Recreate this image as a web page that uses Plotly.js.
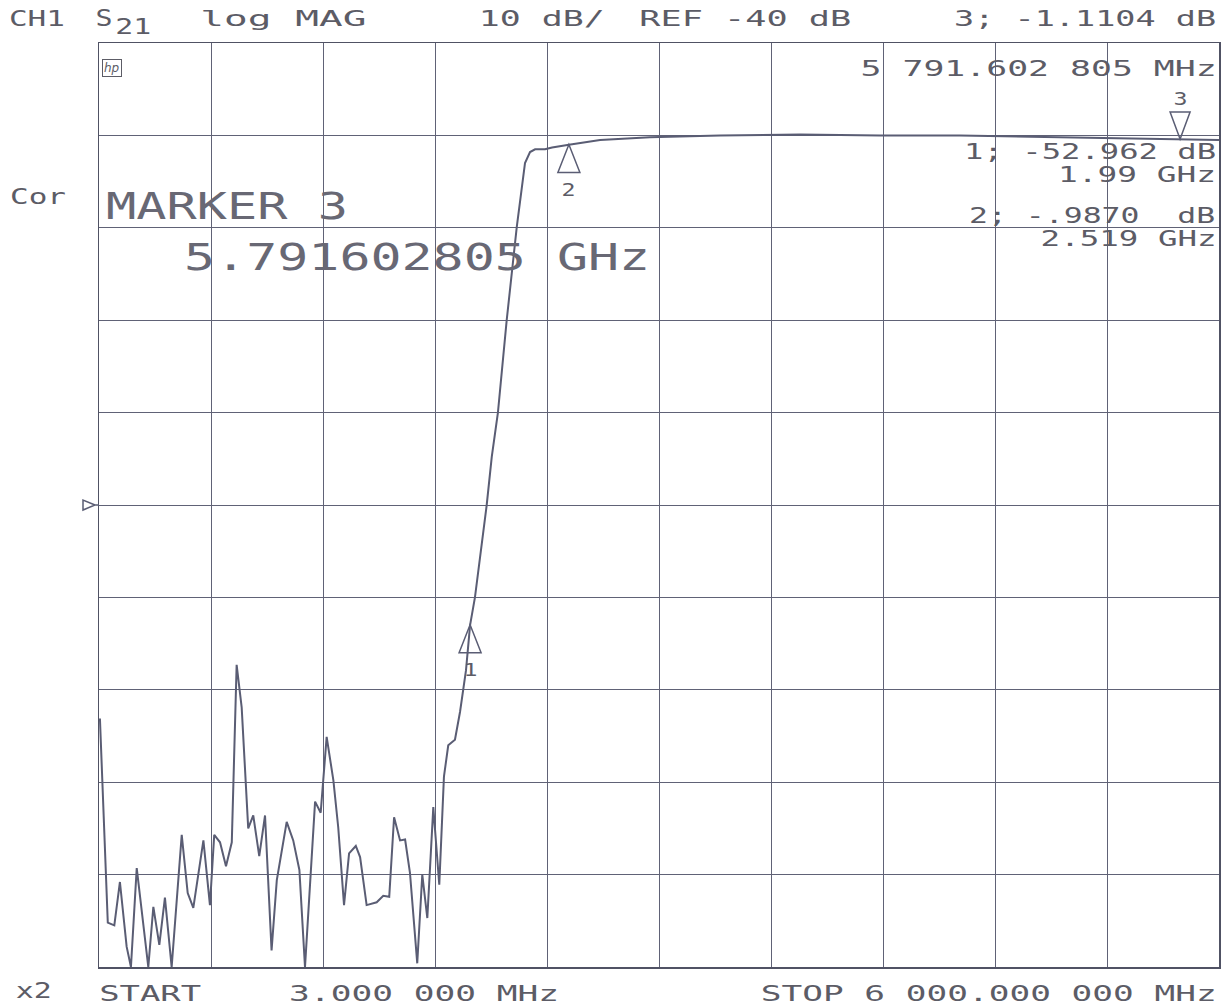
<!DOCTYPE html>
<html>
<head>
<meta charset="utf-8">
<script src="https://cdn.plot.ly/plotly-3.0.1.min.js"></script>
<style>
html,body{margin:0;padding:0;background:#ffffff;}
#chart{width:1228px;height:1007px;}
</style>
</head>
<body>
<div id="chart"></div>
<script>
// ---------------- DATA ----------------
const freqGHz = [0.008, 0.050, 0.085, 0.115, 0.151, 0.174, 0.205, 0.267, 0.294, 0.326,
  0.356, 0.392, 0.446, 0.478, 0.508, 0.562, 0.597, 0.620, 0.651, 0.683,
  0.714, 0.740, 0.767, 0.802, 0.829, 0.861, 0.892, 0.927, 0.955, 1.008,
  1.043, 1.076, 1.106, 1.160, 1.190, 1.222, 1.258, 1.284, 1.315, 1.342,
  1.378, 1.401, 1.436, 1.490, 1.525, 1.557, 1.583, 1.615, 1.642, 1.668,
  1.707, 1.734, 1.761, 1.793, 1.825, 1.850, 1.873, 1.909, 1.936, 1.968,
  1.990, 2.016, 2.079, 2.106, 2.139, 2.186, 2.240, 2.284, 2.311, 2.338,
  2.391, 2.429, 2.519, 2.686, 2.953, 3.328, 3.757, 4.185, 4.613, 4.935,
  5.256, 5.577, 5.792, 6.000];
const s21dB = [-63.1, -85.2, -85.5, -80.8, -87.8, -90.0, -79.3, -90.0, -83.5, -87.6,
  -82.5, -90.0, -75.7, -82.0, -83.6, -76.3, -83.3, -75.7, -76.5, -79.1,
  -76.5, -57.3, -61.9, -75.0, -73.6, -78.0, -73.6, -88.2, -80.6, -74.3,
  -76.3, -79.5, -90.0, -72.1, -73.3, -65.1, -69.8, -74.9, -83.3, -77.7,
  -76.9, -78.1, -83.3, -83.0, -82.3, -82.4, -73.8, -76.3, -76.2, -79.8,
  -89.6, -80.0, -84.7, -72.7, -81.1, -69.4, -66.0, -65.4, -62.4, -57.9,
  -53.0, -50.0, -40.0, -34.8, -30.0, -20.0, -9.9, -3.0, -1.8, -1.5,
  -1.5, -1.3, -1.0, -0.5, -0.2, 0.0, 0.1, 0.0, 0.0, -0.1,
  -0.2, -0.3, -0.4, -0.5];
const markerNum  = ['1', '2', '3'];
const markerFreq = [1.99, 2.519, 5.7916];
const markerDb   = [-52.96, -0.99, -0.40];
const startGHz = 0.003, stopGHz = 6.0;
const refDb = -40, dbPerDiv = 10, nDiv = 10;

// ---------------- LAYOUT / STYLE ----------------
const W = 1228, H = 1007;
const M = {l: 99, r: 9, t: 43, b: 40};
const PW = W - M.l - M.r, PH = H - M.t - M.b;
const yMin = refDb - dbPerDiv * nDiv / 2, yMax = refDb + dbPerDiv * nDiv / 2;
const FONT = '"DejaVu Sans Mono", "Liberation Mono", monospace';
const TXT = '#5c5c66';
const BIGTXT = '#686874';
const INK = '#5a5d74';
const GRID = '#606276';

const px = x => (x - M.l) / PW;
const py = y => (M.t + PH - y) / PH;

// [text, centre x px, centre y px, target width px, font size, colour]
const labels = [
  ['CH1', 37, 18, 56, 22, TXT],
  ['S', 104, 18, 17, 23, TXT],
  ['21', 133, 27, 36, 22, TXT],
  ['log MAG', 283, 18, 166, 22, TXT],
  ['10 dB/', 541, 18, 126, 22, TXT],
  ['REF -40 dB', 745, 18, 212, 22, TXT],
  ['3; -1.1104 dB', 1085, 18, 262, 22, TXT],
  ['5 791.602 805 MHz', 1038, 68, 356, 22, TXT],
  ['1; -52.962 dB', 1090, 151, 252, 22, TXT],
  ['1.99 GHz', 1137, 174, 158, 22, TXT],
  ['2; -.9870\u00a0\u00a0dB', 1092, 215, 246, 22, TXT],
  ['2.519 GHz', 1128, 238, 176, 22, TXT],
  ['Cor', 38, 197, 56, 21, TXT],
  ['MARKER 3', 227, 206, 242, 37, BIGTXT],
  ['5.791602805 GHz', 417, 257, 466, 37, BIGTXT],
  ['x2', 33, 991, 36, 21, TXT],
  ['START', 150, 993, 102, 22, TXT],
  ['3.000 000 MHz', 424, 993, 270, 22, TXT],
  ['STOP 6 000.000 000 MHz', 988, 993, 456, 22, TXT]
];

const annotations = labels.map(l => ({
  text: l[0], xref: 'paper', yref: 'paper', x: px(l[1]), y: py(l[2]),
  xanchor: 'center', yanchor: 'middle', showarrow: false,
  font: {family: FONT, size: l[4], color: l[5]}
}));
const widths = labels.map(l => l[3]);

// hp logo box
annotations.push({
  text: '<i>hp</i>', xref: 'paper', yref: 'paper', x: px(112), y: py(68),
  xanchor: 'center', yanchor: 'middle', showarrow: false,
  font: {family: 'DejaVu Sans', size: 12, color: TXT},
  bordercolor: TXT, borderwidth: 1, borderpad: 1
});
widths.push(0);

// marker number labels
markerNum.forEach((n, i) => {
  const up = i < 2;
  annotations.push({
    text: n, xref: 'x', yref: 'y', x: markerFreq[i], y: markerDb[i],
    xanchor: 'center', yanchor: 'middle', showarrow: false,
    yshift: up ? -45 : 41,
    font: {family: FONT, size: 18, color: TXT}
  });
  widths.push(14);
});

// marker triangles (tip on the trace)
const shapes = markerNum.map((n, i) => ({
  type: 'path', xref: 'x', yref: 'y', xsizemode: 'pixel', ysizemode: 'pixel',
  xanchor: markerFreq[i], yanchor: markerDb[i],
  path: i < 2 ? 'M0,0 L-11,-28 L11,-28 Z' : 'M0,0 L-10,27 L10,27 Z',
  line: {color: INK, width: 1.5}, fillcolor: 'rgba(0,0,0,0)', layer: 'above'
}));
// reference level pointer at left edge
shapes.push({
  type: 'path', xref: 'paper', yref: 'paper', xsizemode: 'pixel', ysizemode: 'pixel',
  xanchor: 0, yanchor: (refDb - yMin) / (yMax - yMin),
  path: 'M-4,0 L-16,5 L-16,-5 Z M-4,0 L0,0',
  line: {color: INK, width: 1.5}, fillcolor: 'rgba(0,0,0,0)', layer: 'above'
});

const trace = {
  x: freqGHz, y: s21dB, type: 'scatter', mode: 'lines',
  line: {color: INK, width: 2}, hoverinfo: 'skip'
};

const axisCommon = {
  showticklabels: false, ticks: '', showgrid: true, gridcolor: GRID, gridwidth: 1,
  zeroline: false, showline: true, linecolor: '#505264', linewidth: 1.5, mirror: true,
  fixedrange: true
};

const layout = {
  width: W, height: H, margin: M,
  paper_bgcolor: '#ffffff', plot_bgcolor: '#ffffff',
  showlegend: false, hovermode: false,
  xaxis: Object.assign({}, axisCommon, {
    range: [startGHz, stopGHz], tick0: startGHz, dtick: (stopGHz - startGHz) / nDiv
  }),
  yaxis: Object.assign({}, axisCommon, {
    range: [yMin, yMax], tick0: yMin, dtick: dbPerDiv
  }),
  annotations: annotations, shapes: shapes
};

function stretchText() {
  widths.forEach((w, i) => {
    if (!w) return;
    const t = document.querySelector('.annotation[data-index="' + i + '"] text.annotation-text');
    if (t) {
      t.setAttribute('textLength', w);
      t.setAttribute('lengthAdjust', 'spacingAndGlyphs');
    }
  });
}

Plotly.newPlot('chart', [trace], layout, {displayModeBar: false, staticPlot: true})
  .then(stretchText);
</script>
</body>
</html>
